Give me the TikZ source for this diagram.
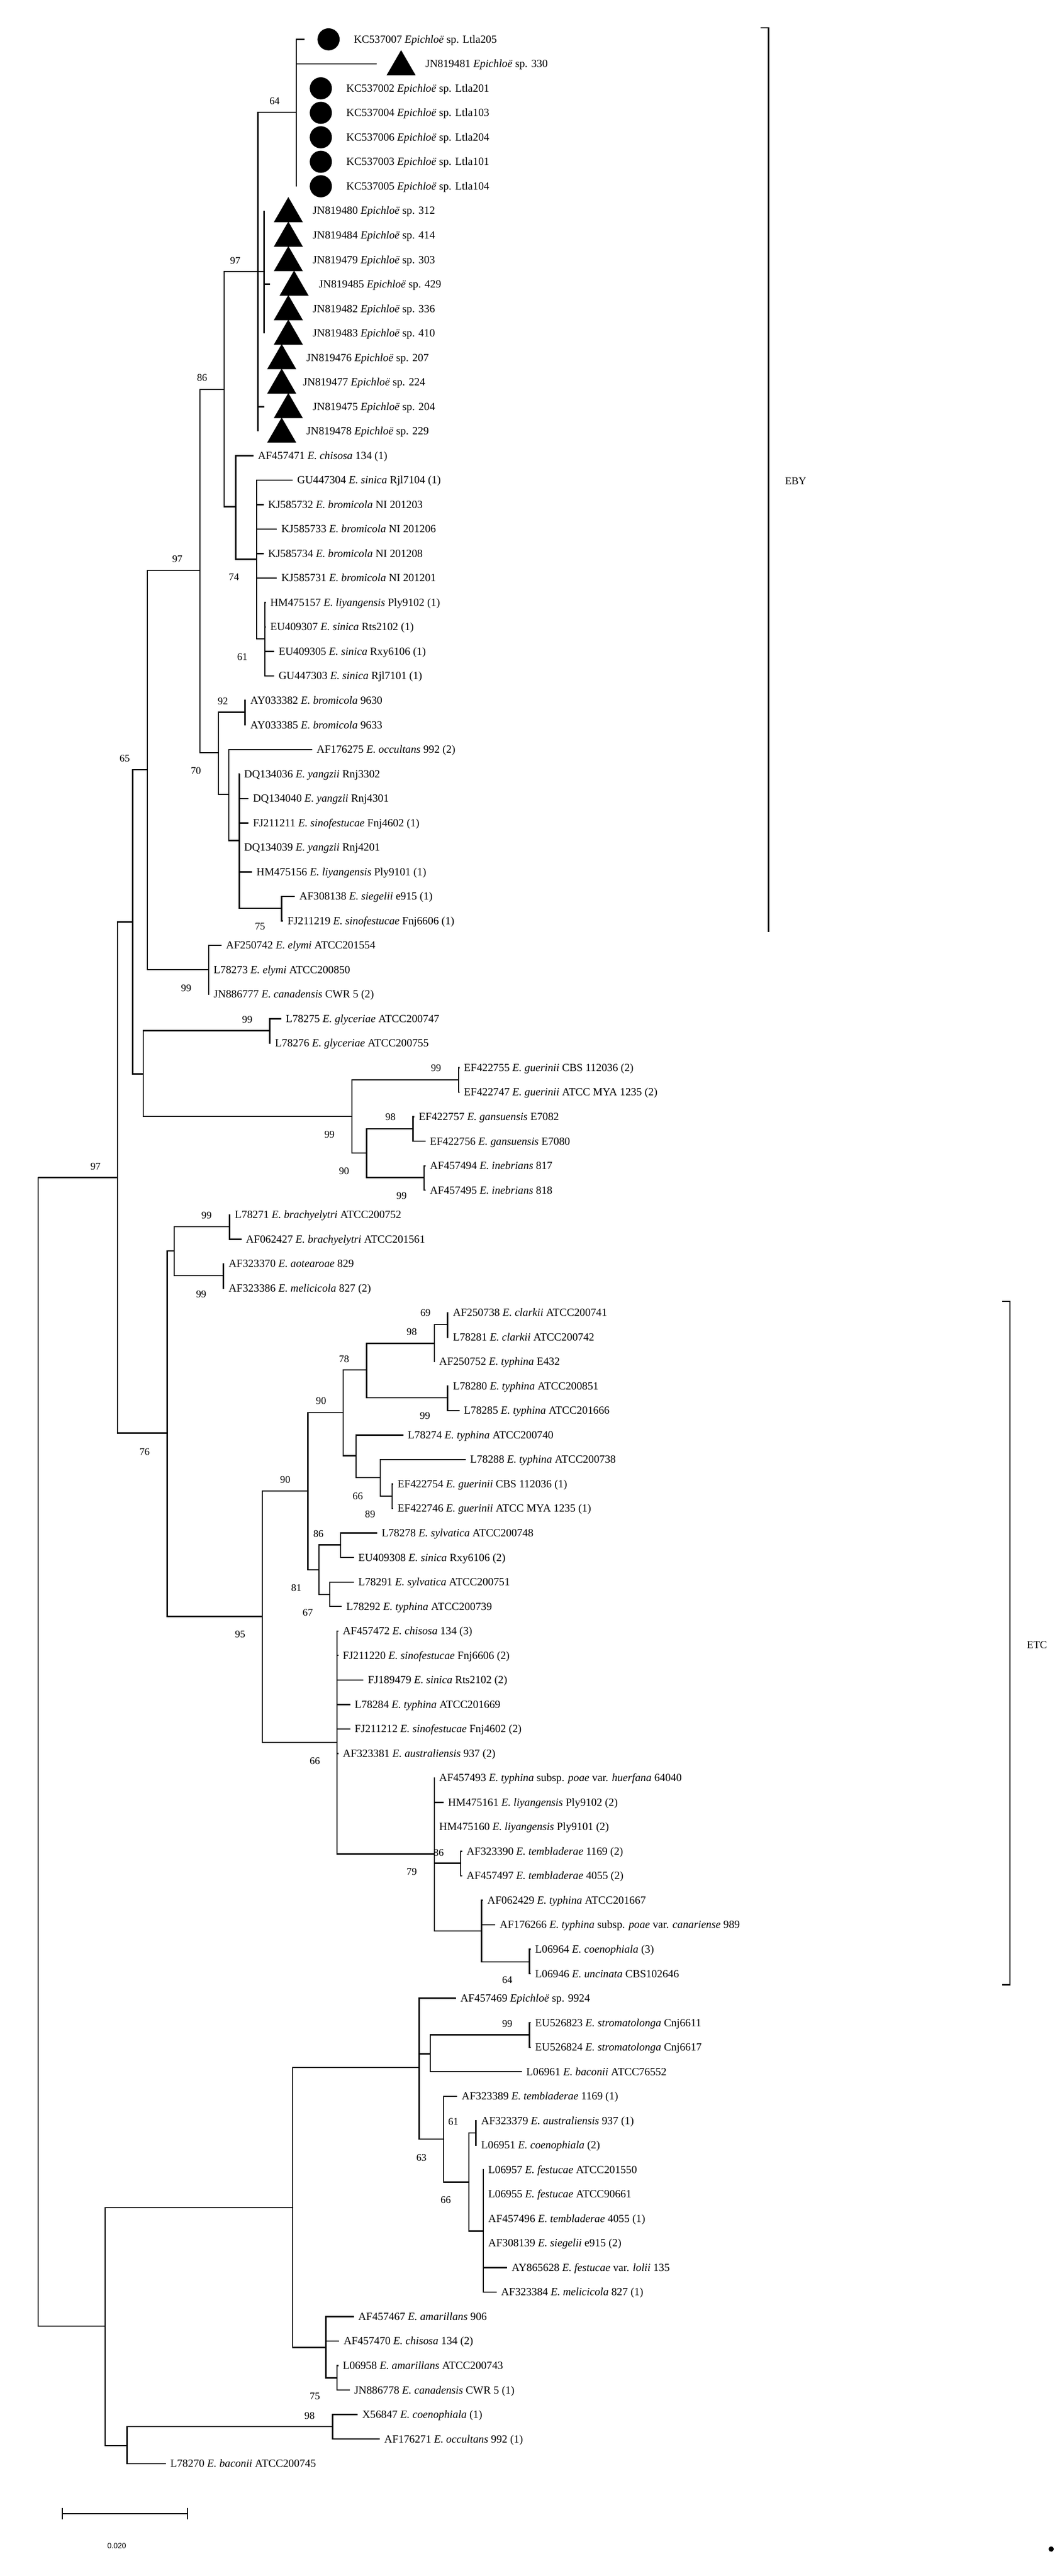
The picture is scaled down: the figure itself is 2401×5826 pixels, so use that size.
\documentclass[tikz,border=0pt]{standalone}
\usepackage{fontspec}
\setmainfont{Liberation Serif}
\setsansfont{Liberation Sans}
\usetikzlibrary{shapes.geometric}
\tikzset{
  branch/.style={draw=black,line width=2.8pt},
  taxon/.style={anchor=west,inner xsep=10pt,inner ysep=0pt,text height=19pt,text depth=3pt,font=\fontsize{24.8}{29}\selectfont,text=black},
  support/.style={anchor=center,inner sep=0pt,text height=16pt,text depth=0pt,font=\fontsize{23}{27}\selectfont,text=black},
  clade/.style={anchor=west,inner sep=0pt,font=\fontsize{24}{28}\selectfont,text=black},
  trimark/.style={regular polygon,regular polygon sides=3,minimum size=76pt,inner sep=0pt,fill=black,yshift=-7pt},
  circmark/.style={circle,minimum size=50pt,inner sep=0pt,fill=black},
  bracket/.style={draw=black,line width=2.6pt,miter limit=10},
  scalelab/.style={anchor=center,inner sep=0pt,font=\sffamily\fontsize{17}{20}\selectfont,text=black}
}
\newcounter{suppno}
\newcommand{\rowy}[1]{\pgfmathsetmacro{\yy}{89+55.38*(#1)}}
% parent, name, text x, row, text
\newcommand{\taxonleaf}[5]{%
  \rowy{#4}%
  \node[taxon] (#2) at ({#3-10},\yy) {#5};
  \draw[branch] (#1) |- (#2.west);
}
% parent, name, tip x, row, marker style, marker x, text x, text
\newcommand{\markleaf}[8]{%
  \rowy{#4}%
  \coordinate (#2t) at (#3,\yy);
  \draw[branch] (#1) |- (#2t);
  \node[#5] (#2m) at (#6,\yy) {};
  \node[taxon] (#2) at ({#7-10},\yy) {#8};
}
\newcommand{\bootval}[3]{%
  \stepcounter{suppno}%
  \node[support] (s\arabic{suppno}) at (#1,#2) {#3};
}
\newcommand{\ty}[1]{\textit{#1}}
\newcommand{\Ep}{\textit{Epichlo\"e}}
\begin{document}
\begin{tikzpicture}[x=1pt,y=-1pt]
\fill[white] (0,0) rectangle (2401,5826);
\useasboundingbox (0,0) rectangle (2401,5826);
% internal nodes
\coordinate (R) at (86,2663);
\coordinate (A) at (266,2663);
\coordinate (B) at (300,2085);
\coordinate (C) at (333,1741);
\coordinate (D) at (452,1290);
\coordinate (E) at (507,881);
\coordinate (F) at (583,614);
\coordinate (G) at (597,614);
\coordinate (H) at (670,254);
\coordinate (J) at (533,1146);
\coordinate (K) at (580,1265);
\coordinate (L) at (599,1445);
\coordinate (M) at (494,1702);
\coordinate (N) at (554,1611);
\coordinate (O) at (517,1797);
\coordinate (P) at (541,1901);
\coordinate (Q) at (637,2054);
\coordinate (CC) at (472,2193);
\coordinate (S) at (324,2429);
\coordinate (T) at (610,2331);
\coordinate (U) at (796,2525);
\coordinate (V) at (1037,2442);
\coordinate (W) at (829,2608);
\coordinate (X) at (934,2553);
\coordinate (Y) at (959,2663);
\coordinate (Z) at (378,3241);
\coordinate (AA) at (394,2829);
\coordinate (AB) at (519,2774);
\coordinate (AC) at (505,2885);
\coordinate (AD) at (593,3656);
\coordinate (AE) at (696,3372);
\coordinate (AF) at (776,3195);
\coordinate (AG) at (829,3098);
\coordinate (AH) at (982,3038);
\coordinate (AI) at (1012,2996);
\coordinate (AJ) at (1012,3161);
\coordinate (AK) at (805,3292);
\coordinate (AL) at (860,3342);
\coordinate (AM) at (887,3384);
\coordinate (AN) at (721,3550);
\coordinate (AO) at (770,3494);
\coordinate (AP) at (746,3606);
\coordinate (AQ) at (762,3941);
\coordinate (AR) at (982,4193);
\coordinate (AS) at (1042,4214);
\coordinate (AT) at (1089,4367);
\coordinate (AU) at (1197,4437);
\coordinate (AV) at (238,5261);
\coordinate (AW) at (662,4993);
\coordinate (AX) at (948,4676);
\coordinate (AY) at (973,4645);
\coordinate (AZ) at (1197,4602);
\coordinate (BA) at (1003,4838);
\coordinate (BB) at (1060,4935);
\coordinate (BC) at (1076,4824);
\coordinate (BD) at (1093,5046);
\coordinate (BE) at (737,5309);
\coordinate (BF) at (762,5378);
\coordinate (BG) at (287,5531);
\coordinate (BH) at (752,5488);
% internal branches
\foreach \p/\c in {R/A,A/B,B/C,C/D,D/E,E/F,F/G,F/H,E/J,J/K,K/L,D/M,M/N,M/O,O/P,P/Q,C/CC,B/S,S/T,S/U,U/V,U/W,W/X,W/Y,
  A/Z,Z/AA,AA/AB,AA/AC,Z/AD,AD/AE,AE/AF,AF/AG,AG/AH,AH/AI,AG/AJ,AF/AK,AK/AL,AL/AM,AE/AN,AN/AO,AN/AP,AD/AQ,AQ/AR,AR/AS,AR/AT,AT/AU,
  R/AV,AV/AW,AW/AX,AX/AY,AY/AZ,AX/BA,BA/BB,BB/BC,BB/BD,AW/BE,BE/BF,AV/BG,BG/BH}
  {\draw[branch] (\p) |- (\c);}
% marked leaves
\markleaf{H}{KC537007}{689}{0}{circmark}{743}{800}{KC537007 \Ep{} sp. Ltla205}
\markleaf{H}{JN819481}{852}{1}{trimark}{907}{962}{JN819481 \Ep{} sp. 330}
\markleaf{H}{KC537002}{670}{2}{circmark}{725.5}{783}{KC537002 \Ep{} sp. Ltla201}
\markleaf{H}{KC537004}{670}{3}{circmark}{725.5}{783}{KC537004 \Ep{} sp. Ltla103}
\markleaf{H}{KC537006}{670}{4}{circmark}{725.5}{783}{KC537006 \Ep{} sp. Ltla204}
\markleaf{H}{KC537003}{670}{5}{circmark}{725.5}{783}{KC537003 \Ep{} sp. Ltla101}
\markleaf{H}{KC537005}{670}{6}{circmark}{725.5}{783}{KC537005 \Ep{} sp. Ltla104}
\markleaf{G}{JN819480}{597}{7}{trimark}{652}{707}{JN819480 \Ep{} sp. 312}
\markleaf{G}{JN819484}{597}{8}{trimark}{652}{707}{JN819484 \Ep{} sp. 414}
\markleaf{G}{JN819479}{597}{9}{trimark}{652}{707}{JN819479 \Ep{} sp. 303}
\markleaf{G}{JN819485}{611}{10}{trimark}{665}{721}{JN819485 \Ep{} sp. 429}
\markleaf{G}{JN819482}{597}{11}{trimark}{652}{707}{JN819482 \Ep{} sp. 336}
\markleaf{G}{JN819483}{597}{12}{trimark}{652}{707}{JN819483 \Ep{} sp. 410}
\markleaf{F}{JN819476}{583}{13}{trimark}{637}{693}{JN819476 \Ep{} sp. 207}
\markleaf{F}{JN819477}{583}{14}{trimark}{637}{685}{JN819477 \Ep{} sp. 224}
\markleaf{F}{JN819475}{598}{15}{trimark}{652}{707}{JN819475 \Ep{} sp. 204}
\markleaf{F}{JN819478}{583}{16}{trimark}{637}{693}{JN819478 \Ep{} sp. 229}
% leaves
\taxonleaf{J}{AF457471}{583}{17}{AF457471 \ty{E. chisosa} 134 (1)}
\taxonleaf{K}{GU447304}{672}{18}{GU447304 \ty{E. sinica} Rjl7104 (1)}
\taxonleaf{K}{KJ585732}{606}{19}{KJ585732 \ty{E. bromicola} NI 201203}
\taxonleaf{K}{KJ585733}{636}{20}{KJ585733 \ty{E. bromicola} NI 201206}
\taxonleaf{K}{KJ585734}{606}{21}{KJ585734 \ty{E. bromicola} NI 201208}
\taxonleaf{K}{KJ585731}{636}{22}{KJ585731 \ty{E. bromicola} NI 201201}
\taxonleaf{L}{HM475157}{611}{23}{HM475157 \ty{E. liyangensis} Ply9102 (1)}
\taxonleaf{L}{EU409307}{611}{24}{EU409307 \ty{E. sinica} Rts2102 (1)}
\taxonleaf{L}{EU409305}{630}{25}{EU409305 \ty{E. sinica} Rxy6106 (1)}
\taxonleaf{L}{GU447303}{630}{26}{GU447303 \ty{E. sinica} Rjl7101 (1)}
\taxonleaf{N}{AY033382}{566}{27}{AY033382 \ty{E. bromicola} 9630}
\taxonleaf{N}{AY033385}{566}{28}{AY033385 \ty{E. bromicola} 9633}
\taxonleaf{O}{AF176275}{716}{29}{AF176275 \ty{E. occultans} 992 (2)}
\taxonleaf{P}{DQ134036}{552}{30}{DQ134036 \ty{E. yangzii} Rnj3302}
\taxonleaf{P}{DQ134040}{572}{31}{DQ134040 \ty{E. yangzii} Rnj4301}
\taxonleaf{P}{FJ211211}{572}{32}{FJ211211 \ty{E. sinofestucae} Fnj4602 (1)}
\taxonleaf{P}{DQ134039}{552}{33}{DQ134039 \ty{E. yangzii} Rnj4201}
\taxonleaf{P}{HM475156}{580}{34}{HM475156 \ty{E. liyangensis} Ply9101 (1)}
\taxonleaf{Q}{AF308138}{677}{35}{AF308138 \ty{E. siegelii} e915 (1)}
\taxonleaf{Q}{FJ211219}{650}{36}{FJ211219 \ty{E. sinofestucae} Fnj6606 (1)}
\taxonleaf{CC}{AF250742}{511}{37}{AF250742 \ty{E. elymi} ATCC201554}
\taxonleaf{CC}{L78273}{483}{38}{L78273 \ty{E. elymi} ATCC200850}
\taxonleaf{CC}{JN886777}{483}{39}{JN886777 \ty{E. canadensis} CWR 5 (2)}
\taxonleaf{T}{L78275}{646}{40}{L78275 \ty{E. glyceriae} ATCC200747}
\taxonleaf{T}{L78276}{622}{41}{L78276 \ty{E. glyceriae} ATCC200755}
\taxonleaf{V}{EF422755}{1049}{42}{EF422755 \ty{E. guerinii} CBS 112036 (2)}
\taxonleaf{V}{EF422747}{1049}{43}{EF422747 \ty{E. guerinii} ATCC MYA 1235 (2)}
\taxonleaf{X}{EF422757}{947}{44}{EF422757 \ty{E. gansuensis} E7082}
\taxonleaf{X}{EF422756}{972}{45}{EF422756 \ty{E. gansuensis} E7080}
\taxonleaf{Y}{AF457494}{972}{46}{AF457494 \ty{E. inebrians} 817}
\taxonleaf{Y}{AF457495}{972}{47}{AF457495 \ty{E. inebrians} 818}
\taxonleaf{AB}{L78271}{531}{48}{L78271 \ty{E. brachyelytri} ATCC200752}
\taxonleaf{AB}{AF062427}{556}{49}{AF062427 \ty{E. brachyelytri} ATCC201561}
\taxonleaf{AC}{AF323370}{517}{50}{AF323370 \ty{E. aotearoae} 829}
\taxonleaf{AC}{AF323386}{517}{51}{AF323386 \ty{E. melicicola} 827 (2)}
\taxonleaf{AI}{AF250738}{1024}{52}{AF250738 \ty{E. clarkii} ATCC200741}
\taxonleaf{AI}{L78281}{1024}{53}{L78281 \ty{E. clarkii} ATCC200742}
\taxonleaf{AH}{AF250752}{993}{54}{AF250752 \ty{E. typhina} E432}
\taxonleaf{AJ}{L78280}{1024}{55}{L78280 \ty{E. typhina} ATCC200851}
\taxonleaf{AJ}{L78285}{1049}{56}{L78285 \ty{E. typhina} ATCC201666}
\taxonleaf{AK}{L78274}{922}{57}{L78274 \ty{E. typhina} ATCC200740}
\taxonleaf{AL}{L78288}{1063}{58}{L78288 \ty{E. typhina} ATCC200738}
\taxonleaf{AM}{EF422754}{899}{59}{EF422754 \ty{E. guerinii} CBS 112036 (1)}
\taxonleaf{AM}{EF422746}{899}{60}{EF422746 \ty{E. guerinii} ATCC MYA 1235 (1)}
\taxonleaf{AO}{L78278}{863}{61}{L78278 \ty{E. sylvatica} ATCC200748}
\taxonleaf{AO}{EU409308}{810}{62}{EU409308 \ty{E. sinica} Rxy6106 (2)}
\taxonleaf{AP}{L78291}{810}{63}{L78291 \ty{E. sylvatica} ATCC200751}
\taxonleaf{AP}{L78292}{783}{64}{L78292 \ty{E. typhina} ATCC200739}
\taxonleaf{AQ}{AF457472}{775}{65}{AF457472 \ty{E. chisosa} 134 (3)}
\taxonleaf{AQ}{FJ211220}{775}{66}{FJ211220 \ty{E. sinofestucae} Fnj6606 (2)}
\taxonleaf{AQ}{FJ189479}{832}{67}{FJ189479 \ty{E. sinica} Rts2102 (2)}
\taxonleaf{AQ}{L78284}{802}{68}{L78284 \ty{E. typhina} ATCC201669}
\taxonleaf{AQ}{FJ211212}{802}{69}{FJ211212 \ty{E. sinofestucae} Fnj4602 (2)}
\taxonleaf{AQ}{AF323381}{775}{70}{AF323381 \ty{E. australiensis} 937 (2)}
\taxonleaf{AR}{AF457493}{993}{71}{AF457493 \ty{E. typhina} subsp. \ty{poae} var. \ty{huerfana} 64040}
\taxonleaf{AR}{HM475161}{1013}{72}{HM475161 \ty{E. liyangensis} Ply9102 (2)}
\taxonleaf{AR}{HM475160}{993}{73}{HM475160 \ty{E. liyangensis} Ply9101 (2)}
\taxonleaf{AS}{AF323390}{1055}{74}{AF323390 \ty{E. tembladerae} 1169 (2)}
\taxonleaf{AS}{AF457497}{1055}{75}{AF457497 \ty{E. tembladerae} 4055 (2)}
\taxonleaf{AT}{AF062429}{1102}{76}{AF062429 \ty{E. typhina} ATCC201667}
\taxonleaf{AT}{AF176266}{1130}{77}{AF176266 \ty{E. typhina} subsp. \ty{poae} var. \ty{canariense} 989}
\taxonleaf{AU}{L06964}{1210}{78}{L06964 \ty{E. coenophiala} (3)}
\taxonleaf{AU}{L06946}{1210}{79}{L06946 \ty{E. uncinata} CBS102646}
\taxonleaf{AX}{AF457469}{1041}{80}{AF457469 \Ep{} sp. 9924}
\taxonleaf{AZ}{EU526823}{1210}{81}{EU526823 \ty{E. stromatolonga} Cnj6611}
\taxonleaf{AZ}{EU526824}{1210}{82}{EU526824 \ty{E. stromatolonga} Cnj6617}
\taxonleaf{AY}{L06961}{1190}{83}{L06961 \ty{E. baconii} ATCC76552}
\taxonleaf{BA}{AF323389}{1044}{84}{AF323389 \ty{E. tembladerae} 1169 (1)}
\taxonleaf{BC}{AF323379}{1088}{85}{AF323379 \ty{E. australiensis} 937 (1)}
\taxonleaf{BC}{L06951}{1088}{86}{L06951 \ty{E. coenophiala} (2)}
\taxonleaf{BD}{L06957}{1104}{87}{L06957 \ty{E. festucae} ATCC201550}
\taxonleaf{BD}{L06955}{1104}{88}{L06955 \ty{E. festucae} ATCC90661}
\taxonleaf{BD}{AF457496}{1104}{89}{AF457496 \ty{E. tembladerae} 4055 (1)}
\taxonleaf{BD}{AF308139}{1104}{90}{AF308139 \ty{E. siegelii} e915 (2)}
\taxonleaf{BD}{AY865628}{1157}{91}{AY865628 \ty{E. festucae} var. \ty{lolii} 135}
\taxonleaf{BD}{AF323384}{1133}{92}{AF323384 \ty{E. melicicola} 827 (1)}
\taxonleaf{BE}{AF457467}{810}{93}{AF457467 \ty{E. amarillans} 906}
\taxonleaf{BE}{AF457470}{777}{94}{AF457470 \ty{E. chisosa} 134 (2)}
\taxonleaf{BF}{L06958}{775}{95}{L06958 \ty{E. amarillans} ATCC200743}
\taxonleaf{BF}{JN886778}{801}{96}{JN886778 \ty{E. canadensis} CWR 5 (1)}
\taxonleaf{BH}{X56847}{819}{97}{X56847 \ty{E. coenophiala} (1)}
\taxonleaf{BH}{AF176271}{869}{98}{AF176271 \ty{E. occultans} 992 (1)}
\taxonleaf{BG}{L78270}{385}{99}{L78270 \ty{E. baconii} ATCC200745}
% support values
\foreach \a/\b/\t in {621/228/64,532/589/97,457/854/86,529/1305/74,548/1485/61,504/1585/92,443/1743/70,401/1264/97,282/1715/65,
  588/2095/75,421/2234/99,559/2305/99,986/2415/99,883/2526/98,745/2565/99,778/2648/90,908/2704/99,216/2637/97,467/2748/99,455/2926/99,
  962/2969/69,931/3011/98,778/3073/78,726/3168/90,961/3202/99,327/3283/76,645/3346/90,809/3383/66,837/3424/89,720/3468/86,670/3591/81,
  696/3647/67,543/3696/95,712/3982/66,992/4189/86,931/4233/79,1147/4477/64,1147/4577/99,1025/4798/61,953/4879/63,1008/4975/66,712/5419/75,700/5463/98}
  {\bootval{\a}{\b}{\t}}
% clade brackets
\coordinate (ebytick) at (1720,63);
\coordinate (ebytop) at (1738,63);
\coordinate (ebybot) at (1738,2108);
\draw[bracket] (ebytick) -- (ebytop) -- (ebybot);
\node[clade] (EBY) at (1775,1088) {EBY};
\coordinate (etctick) at (2266,2943);
\coordinate (etctop) at (2284,2943);
\coordinate (etcbot) at (2284,4489);
\coordinate (etcend) at (2266,4489);
\draw[bracket] (etctick) -- (etctop) -- (etcbot) -- (etcend);
\node[clade] (ETC) at (2322,3720) {ETC};
% scale bar
\coordinate (sbl) at (141,5685);
\coordinate (sbr) at (424,5685);
\draw[branch] (sbl) -- (sbr);
\draw[branch] ([yshift=13pt]sbl) -- ([yshift=-13pt]sbl);
\draw[branch] ([yshift=13pt]sbr) -- ([yshift=-13pt]sbr);
\node[scalelab] (sblabel) at (264,5758) {0.020};
% stray dot
\node[circle,fill=black,inner sep=0pt,minimum size=12pt] (dot) at (2377,5765) {};
\end{tikzpicture}
\end{document}
